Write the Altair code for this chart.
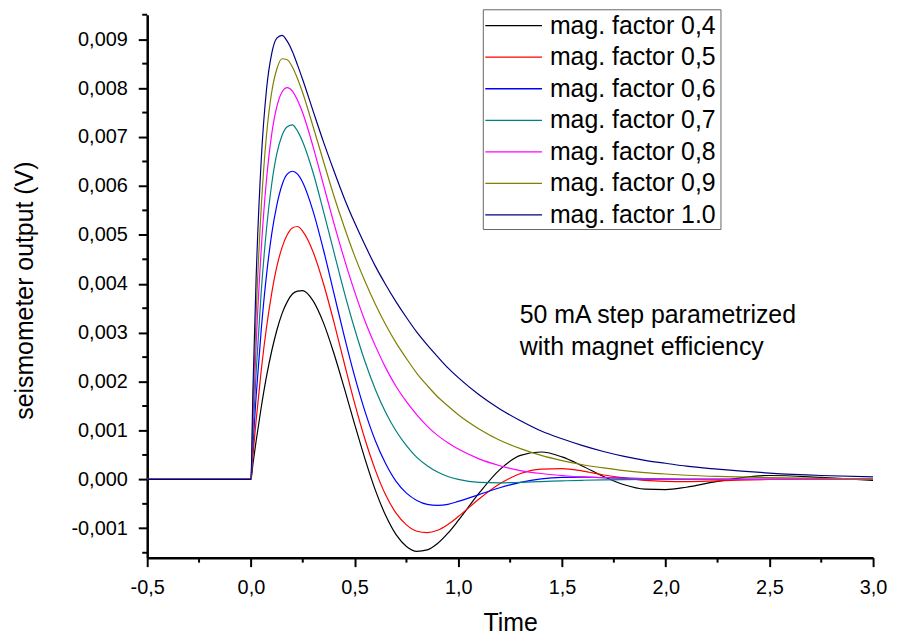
import altair as alt
import pandas as pd

FONT = "Liberation Sans"

# time axis (s) shared by all series
TIME = [-0.5, 0, 0.01, 0.025, 0.05, 0.075, 0.1, 0.125, 0.15, 0.175, 0.2, 0.225, 0.25,
        0.3, 0.35, 0.4, 0.45, 0.5, 0.55, 0.6, 0.65, 0.7, 0.75, 0.8, 0.85, 0.9, 0.95, 1.0,
        1.1, 1.2, 1.3, 1.4, 1.5, 1.6, 1.7, 1.8, 1.9, 2.0, 2.1, 2.25, 2.5, 2.75, 3.0]

# seismometer output in mV
MAG_04 = [0, 0, 0.32, 0.78, 1.48, 2.10, 2.62, 3.05, 3.39, 3.63, 3.79, 3.85, 3.86,
          3.65, 3.20, 2.58, 1.87, 1.13, 0.42, -0.22, -0.74, -1.13, -1.37, -1.47, -1.44, -1.31, -1.10, -0.84,
          -0.28, 0.20, 0.49, 0.56, 0.46, 0.27, 0.06, -0.11, -0.20, -0.21, -0.16, -0.04, 0.08, 0.04, -0.02]
MAG_05 = [0, 0, 0.50, 1.20, 2.24, 3.10, 3.80, 4.35, 4.74, 5.00, 5.14, 5.17, 5.07,
          4.65, 4.00, 3.22, 2.38, 1.56, 0.82, 0.19, -0.32, -0.69, -0.93, -1.06, -1.09, -1.04, -0.92, -0.76,
          -0.40, -0.09, 0.12, 0.21, 0.22, 0.17, 0.09, 0.03, -0.02, -0.04, -0.045, -0.03, 0.0, 0.01, 0.0]
MAG_06 = [0, 0, 0.71, 1.69, 3.07, 4.17, 5.01, 5.61, 6.02, 6.24, 6.30, 6.24, 6.07,
          5.48, 4.69, 3.81, 2.93, 2.11, 1.39, 0.79, 0.32, -0.04, -0.28, -0.43, -0.51, -0.53, -0.51, -0.45,
          -0.31, -0.17, -0.06, 0.01, 0.04, 0.045, 0.037, 0.025, 0.014, 0.005, 0.0, 0.0, 0.0, 0.0, 0.0]
MAG_07 = [0, 0, 0.93, 2.17, 3.85, 5.11, 6.03, 6.66, 7.03, 7.21, 7.25, 7.12, 6.90,
          6.27, 5.48, 4.65, 3.83, 3.08, 2.41, 1.84, 1.37, 0.99, 0.69, 0.45, 0.28, 0.15, 0.06, 0.0,
          -0.06, -0.07, -0.06, -0.045, -0.03, -0.018, -0.01, -0.005, -0.002, 0.0, 0.0, 0.0, 0.0, 0.0, 0.0]
MAG_08 = [0, 0, 1.20, 2.74, 4.72, 6.12, 7.05, 7.62, 7.92, 8.01, 7.94, 7.75, 7.49,
          6.80, 6.02, 5.24, 4.51, 3.84, 3.24, 2.73, 2.28, 1.90, 1.59, 1.32, 1.09, 0.90, 0.75, 0.62,
          0.42, 0.28, 0.18, 0.12, 0.08, 0.05, 0.035, 0.024, 0.016, 0.011, 0.008, 0.005, 0.002, 0.001, 0.0]
MAG_09 = [0, 0, 1.49, 3.34, 5.58, 7.03, 7.91, 8.39, 8.60, 8.58, 8.43, 8.19, 7.90,
          7.21, 6.50, 5.80, 5.16, 4.57, 4.05, 3.58, 3.16, 2.79, 2.47, 2.17, 1.92, 1.69, 1.50, 1.32,
          1.03, 0.80, 0.63, 0.49, 0.385, 0.30, 0.235, 0.18, 0.14, 0.11, 0.085, 0.06, 0.035, 0.02, 0.01]
MAG_10 = [0, 0, 1.88, 4.09, 6.55, 7.96, 8.70, 9.02, 9.08, 8.96, 8.75, 8.47, 8.17,
          7.53, 6.90, 6.31, 5.75, 5.25, 4.79, 4.36, 3.98, 3.63, 3.31, 3.01, 2.75, 2.51, 2.28, 2.08,
          1.73, 1.44, 1.20, 0.99, 0.83, 0.69, 0.57, 0.47, 0.39, 0.33, 0.27, 0.21, 0.13, 0.08, 0.05]

LABELS = ["mag. factor 0,4", "mag. factor 0,5", "mag. factor 0,6", "mag. factor 0,7",
          "mag. factor 0,8", "mag. factor 0,9", "mag. factor 1.0"]
COLORS = ["#000000", "#ff0000", "#0000ff", "#008080", "#ff00ff", "#808000", "#000080"]
SERIES = [MAG_04, MAG_05, MAG_06, MAG_07, MAG_08, MAG_09, MAG_10]

X_MAJOR = [-0.5, 0.0, 0.5, 1.0, 1.5, 2.0, 2.5, 3.0]
X_MINOR = [-0.25, 0.25, 0.75, 1.25, 1.75, 2.25, 2.75]
Y_MAJOR = [-0.001, 0.0, 0.001, 0.002, 0.003, 0.004, 0.005, 0.006, 0.007, 0.008, 0.009]
Y_MINOR = [-0.0015, -0.0005, 0.0005, 0.0015, 0.0025, 0.0035, 0.0045, 0.0055,
           0.0065, 0.0075, 0.0085, 0.0095]

NOTE = ["50 mA step parametrized", "with magnet efficiency"]

rows = []
for lab, vals in zip(LABELS, SERIES):
    for i, (t, v) in enumerate(zip(TIME, vals)):
        rows.append({"t": t, "v": v / 1000.0, "series": lab, "i": i})
df = pd.DataFrame(rows)

W, H = 730, 546
xscale = alt.Scale(domain=[-0.5, 3.0], nice=False, zero=False)
yscale = alt.Scale(domain=[-0.0016, 0.0095], nice=False, zero=False)
cscale = alt.Scale(domain=LABELS, range=COLORS)

x_axis = alt.Axis(
    values=X_MAJOR,
    labelExpr="(datum.value < 0 ? '-' : '') + replace(format(abs(datum.value), '.1f'), '.', ',')",
    tickSize=9, tickWidth=2, tickColor="black", domainColor="black", domainWidth=2.5,
    labelFont=FONT, labelFontSize=20, labelColor="black", labelPadding=11,
    labelFlush=False, labelOverlap=False, grid=False,
    title="Time", titleFont=FONT, titleFontSize=25, titleFontWeight="normal",
    titleColor="black", titleY=73, titleBaseline="alphabetic",
)
y_axis = alt.Axis(
    values=Y_MAJOR,
    labelExpr="(datum.value < 0 ? '-' : '') + replace(format(abs(datum.value), '.3f'), '.', ',')",
    tickSize=9, tickWidth=2, tickColor="black", domainColor="black", domainWidth=2.5,
    labelFont=FONT, labelFontSize=20, labelColor="black", labelPadding=11,
    labelFlush=False, labelOverlap=False, grid=False,
    title="seismometer output (V)", titleFont=FONT, titleFontSize=25,
    titleFontWeight="normal", titleColor="black",
    titleX=-115, titleY=277, titleBaseline="alphabetic",
)

lines = alt.Chart(df).mark_line(interpolate="monotone", strokeWidth=1.2, clip=True).encode(
    x=alt.X("t:Q", scale=xscale, axis=x_axis),
    y=alt.Y("v:Q", scale=yscale, axis=y_axis),
    color=alt.Color("series:N", scale=cscale, legend=None),
    order="i:Q",
)

xminor = alt.Chart(pd.DataFrame({"t": X_MINOR})).mark_rule(color="black", strokeWidth=2).encode(
    x=alt.X("t:Q", scale=xscale, axis=x_axis),
    y=alt.value(H), y2=alt.value(H + 5),
)
yminor = alt.Chart(pd.DataFrame({"v": Y_MINOR})).mark_rule(color="black", strokeWidth=2).encode(
    y=alt.Y("v:Q", scale=yscale, axis=y_axis),
    x=alt.value(-5), x2=alt.value(0),
)

inner = alt.layer(lines, xminor, yminor)

one = pd.DataFrame({"a": [0]})
box = alt.Chart(one).mark_rect(fill="white", stroke="#666666", strokeWidth=1).encode(
    x=alt.value(338), x2=alt.value(577), y=alt.value(-5), y2=alt.value(216),
)

leg_df = pd.DataFrame({"series": LABELS})
leg_y = alt.Y("series:N", scale=alt.Scale(type="point", domain=LABELS, range=[11, 201.3], padding=0), axis=None)
leg_rules = alt.Chart(leg_df).mark_rule(strokeWidth=1.3).encode(
    x=alt.value(340), x2=alt.value(397), y=leg_y,
    color=alt.Color("series:N", scale=cscale, legend=None),
)
leg_text = alt.Chart(leg_df).mark_text(
    align="left", baseline="middle", font=FONT, fontSize=25, color="black"
).encode(x=alt.value(405), y=leg_y, text="series:N")

note = alt.Chart(one).mark_text(
    align="left", baseline="alphabetic", font=FONT, fontSize=25, color="black", lineHeight=32
).encode(x=alt.value(374.7), y=alt.value(310), text=alt.value(NOTE))

chart = alt.layer(inner, box, leg_rules, leg_text, note).resolve_scale(
    y="independent"
).properties(
    width=W, height=H,
    autosize=alt.AutoSizeParams(type="none"),
    padding={"left": 140, "top": 5, "right": 16, "bottom": 76},
    background="white",
).configure_view(stroke=None)

chart.save("out.html", embed_options={"renderer": "svg", "actions": False})
